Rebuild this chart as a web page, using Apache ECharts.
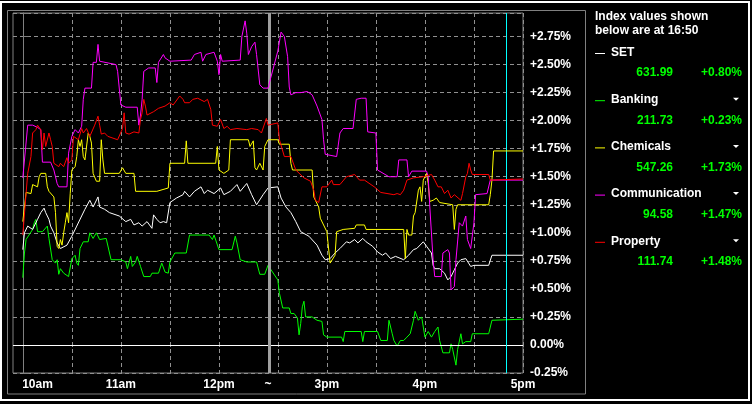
<!DOCTYPE html>
<html><head><meta charset="utf-8">
<script src="https://cdn.jsdelivr.net/npm/echarts@6.0.0/dist/echarts.min.js"></script>
<style>html,body{margin:0;padding:0;background:#000;}#c{width:752px;height:404px;}</style>
</head><body><div id="c"></div>
<script>
// ---- data (time of day, % change) ----
const SET = [['10:00',0.85],['10:01',1.00],['10:03',1.06],['10:06',1.03],['10:09',1.12],['10:11',1.18],['10:13',1.22],['10:14',1.18],['10:16',1.12],['10:17',1.06],['10:19',1.00],['10:21',0.91],['10:23',0.86],['10:27',0.89],['10:30',0.97],['10:33',1.06],['10:36',1.15],['10:38',1.21],['10:41',1.29],['10:43',1.23],['10:46',1.32],['10:47',1.23],['10:50',1.21],['10:53',1.18],['10:59',1.15],['11:03',1.10],['11:06',1.12],['11:08',1.07],['11:11',1.09],['11:13',1.06],['11:16',1.10],['11:19',1.04],['11:20',1.16],['11:22',1.12],['11:24',1.09],['11:26',1.10],['11:28',1.09],['11:30',1.27],['11:34',1.31],['11:38',1.34],['11:39',1.37],['11:42',1.32],['11:45',1.37],['11:49',1.41],['11:51',1.35],['11:53',1.38],['11:57',1.35],['12:01',1.40],['12:03',1.34],['12:07',1.37],['12:11',1.43],['12:13',1.37],['12:17',1.44],['12:20',1.34],['12:23',1.25],['12:27',1.34],['12:30',1.40],['14:30',1.41],['14:32',1.31],['14:35',1.23],['14:38',1.18],['14:41',1.10],['14:44',1.01],['14:49',0.97],['14:54',0.89],['14:57',0.80],['14:59',0.76],['15:02',0.77],['15:05',0.82],['15:08',0.86],['15:12',0.92],['15:14',0.91],['15:17',0.94],['15:19',0.91],['15:22',0.95],['15:24',0.92],['15:28',0.88],['15:31',0.83],['15:34',0.80],['15:36',0.82],['15:39',0.77],['15:42',0.79],['15:47',0.76],['15:50',0.80],['15:53',0.85],['15:55',0.86],['15:59',0.92],['16:01',0.88],['16:04',0.82],['16:05',0.71],['16:06',0.68],['16:09',0.68],['16:12',0.64],['16:14',0.58],['16:16',0.61],['16:18',0.67],['16:20',0.73],['16:22',0.76],['16:25',0.77],['16:28',0.70],['16:30',0.71],['16:39',0.71],['16:41',0.80],['17:00',0.80]];

const BANKING = [['10:00',0.60],['10:01',0.82],['10:02',0.94],['10:06',1.03],['10:07',1.09],['10:08',1.12],['10:09',1.01],['10:12',1.01],['10:15',1.06],['10:16',0.95],['10:18',0.76],['10:20',0.73],['10:21',0.76],['10:22',0.63],['10:23',0.68],['10:25',0.64],['10:28',0.61],['10:29',0.61],['10:30',0.77],['10:32',0.80],['10:33',0.73],['10:34',0.71],['10:35',0.86],['10:37',0.92],['10:40',0.92],['10:41',1.00],['10:43',0.95],['10:45',1.00],['10:47',0.94],['10:48',0.95],['10:51',0.95],['10:54',0.76],['11:00',0.76],['11:03',0.74],['11:04',0.68],['11:06',0.79],['11:07',0.70],['11:09',0.74],['11:10',0.79],['11:12',0.70],['11:14',0.61],['11:18',0.61],['11:19',0.64],['11:23',0.64],['11:25',0.73],['11:27',0.65],['11:29',0.64],['11:30',0.74],['11:33',0.82],['11:40',0.82],['11:42',0.98],['11:54',0.98],['11:56',0.94],['11:57',0.98],['12:00',0.85],['12:08',0.85],['12:10',0.97],['12:11',0.91],['12:13',0.76],['12:17',0.74],['12:23',0.74],['12:25',0.63],['12:28',0.63],['12:30',0.71],['14:30',0.58],['14:31',0.46],['14:33',0.33],['14:37',0.33],['14:38',0.28],['14:40',0.28],['14:42',0.24],['14:43',0.09],['14:44',0.19],['14:45',0.34],['14:46',0.39],['14:47',0.25],['14:51',0.25],['14:54',0.22],['14:57',0.21],['14:58',0.09],['15:00',0.07],['15:09',0.07],['15:10',0.03],['15:11',0.12],['15:21',0.12],['15:22',0.03],['15:23',0.12],['15:31',0.12],['15:33',0.04],['15:37',0.04],['15:38',0.22],['15:40',0.10],['15:41',0.04],['15:43',-0.01],['15:45',0.04],['15:47',0.04],['15:49',0.07],['15:51',0.10],['15:53',0.22],['15:54',0.30],['15:56',0.22],['15:58',0.25],['15:59',0.16],['16:00',0.07],['16:02',0.12],['16:04',0.07],['16:06',0.12],['16:08',0.16],['16:09',0.04],['16:11',-0.07],['16:15',-0.07],['16:16',0.01],['16:17',-0.04],['16:19',-0.18],['16:20',-0.04],['16:22',0.10],['16:23',0.01],['16:25',0.03],['16:28',0.03],['16:29',0.10],['16:39',0.10],['16:41',0.22],['17:00',0.23]];

const CHEMICALS = [['10:00',1.10],['10:02',1.36],['10:03',1.35],['10:05',1.35],['10:06',1.43],['10:09',1.41],['10:10',1.50],['10:11',1.53],['10:14',1.53],['10:15',1.41],['10:16',1.37],['10:19',1.32],['10:20',1.18],['10:21',0.88],['10:22',0.86],['10:23',0.94],['10:24',0.89],['10:25',1.00],['10:26',1.09],['10:27',1.18],['10:28',1.09],['10:29',1.35],['10:30',1.56],['10:32',1.59],['10:33',1.68],['10:34',1.83],['10:35',1.77],['10:36',1.83],['10:37',1.68],['10:38',1.65],['10:40',1.89],['10:41',1.86],['10:42',1.80],['10:43',1.53],['10:45',1.46],['10:47',1.46],['10:48',1.83],['10:49',1.65],['10:50',1.53],['10:59',1.53],['11:01',1.58],['11:03',1.53],['11:08',1.53],['11:09',1.37],['11:22',1.37],['11:29',1.40],['11:30',1.62],['11:39',1.62],['11:40',1.82],['11:41',1.62],['11:58',1.62],['11:59',1.77],['12:00',1.56],['12:03',1.53],['12:04',1.52],['12:06',1.56],['12:07',1.83],['12:18',1.83],['12:19',1.77],['12:21',1.82],['12:22',1.58],['12:23',1.56],['12:25',1.62],['12:27',1.56],['12:28',1.77],['12:30',1.83],['14:30',1.83],['14:31',1.79],['14:37',1.79],['14:38',1.62],['14:39',1.56],['14:51',1.56],['14:52',1.32],['14:55',1.23],['14:56',1.13],['15:00',1.01],['15:02',0.73],['15:03',0.74],['15:05',0.80],['15:06',1.01],['15:10',1.03],['15:17',1.04],['15:18',1.07],['15:23',1.07],['15:24',1.03],['15:47',1.03],['15:48',0.77],['15:49',1.03],['15:50',0.98],['15:52',0.98],['15:53',1.15],['15:54',1.18],['15:56',1.38],['15:57',1.41],['15:58',1.28],['15:59',1.47],['16:01',1.53],['16:02',1.44],['16:03',1.28],['16:05',1.29],['16:07',1.31],['16:09',1.27],['16:17',1.25],['16:18',1.03],['16:19',1.21],['16:20',1.25],['16:39',1.25],['16:40',1.34],['16:41',1.47],['16:42',1.73],['17:00',1.73]];

const COMMUNICATION = [['10:00',1.49],['10:03',1.96],['10:06',1.96],['10:09',1.94],['10:10',1.95],['10:11',1.92],['10:12',1.63],['10:17',1.63],['10:19',1.56],['10:21',1.44],['10:22',1.41],['10:27',1.41],['10:28',1.71],['10:30',1.86],['10:32',1.92],['10:34',1.89],['10:36',1.95],['10:37',2.19],['10:38',2.29],['10:42',2.29],['10:43',2.52],['10:45',2.52],['10:46',2.68],['10:47',2.53],['10:57',2.50],['10:58',2.44],['11:00',2.14],['11:03',2.12],['11:10',2.12],['11:11',1.96],['11:12',2.05],['11:13',2.19],['11:14',2.44],['11:17',2.47],['11:21',2.47],['11:22',2.34],['11:23',2.52],['11:26',2.59],['11:27',2.56],['11:30',2.53],['11:43',2.54],['11:45',2.59],['11:49',2.61],['11:50',2.53],['11:52',2.59],['11:57',2.61],['11:59',2.53],['12:00',2.41],['12:01',2.59],['12:02',2.53],['12:13',2.54],['12:14',2.75],['12:16',2.89],['12:17',2.78],['12:18',2.59],['12:20',2.66],['12:22',2.70],['12:23',2.59],['12:25',2.32],['12:27',2.29],['12:30',2.29],['14:30',2.62],['14:32',2.79],['14:34',2.75],['14:36',2.57],['14:37',2.30],['14:38',2.23],['14:41',2.25],['14:44',2.25],['14:48',2.26],['14:51',2.23],['14:54',2.13],['14:57',2.01],['14:58',1.83],['14:59',1.70],['15:06',1.68],['15:08',1.89],['15:10',1.93],['15:16',1.93],['15:18',2.19],['15:21',2.20],['15:24',2.20],['15:25',1.90],['15:30',1.89],['15:31',1.56],['15:38',1.50],['15:43',1.50],['15:44',1.65],['15:49',1.65],['15:50',1.50],['15:52',1.55],['16:01',1.55],['16:02',1.50],['16:03',1.23],['16:05',0.76],['16:06',0.61],['16:10',0.61],['16:11',0.82],['16:14',0.85],['16:15',0.82],['16:16',0.49],['16:18',0.52],['16:19',0.76],['16:21',1.09],['16:23',1.06],['16:25',1.15],['16:26',0.94],['16:28',0.86],['16:30',1.09],['16:31',1.34],['16:38',1.35],['16:40',1.47],['17:00',1.47]];

const PROPERTY = [['10:00',0.98],['10:02',1.35],['10:03',1.53],['10:05',1.68],['10:06',1.89],['10:08',1.92],['10:09',1.96],['10:11',1.92],['10:12',1.74],['10:13',1.89],['10:14',1.77],['10:16',1.89],['10:17',1.83],['10:18',1.77],['10:19',1.62],['10:22',1.59],['10:23',1.62],['10:25',1.59],['10:27',1.67],['10:28',1.62],['10:30',1.65],['10:31',1.86],['10:34',1.83],['10:36',1.93],['10:37',1.89],['10:39',1.93],['10:41',1.86],['10:44',1.96],['10:46',2.04],['10:47',1.96],['10:48',1.88],['10:50',1.89],['10:52',1.86],['10:58',1.83],['10:59',1.82],['11:01',1.93],['11:02',2.07],['11:03',1.89],['11:05',1.88],['11:08',1.90],['11:11',1.89],['11:12',2.01],['11:13',2.07],['11:14',2.19],['11:15',2.13],['11:16',2.05],['11:20',2.08],['11:23',2.11],['11:27',2.13],['11:30',2.16],['11:32',2.14],['11:36',2.22],['11:38',2.19],['11:39',2.16],['11:42',2.16],['11:44',2.19],['11:47',2.20],['11:51',2.17],['11:53',2.19],['11:55',2.10],['11:56',1.96],['11:59',1.95],['12:01',2.01],['12:03',1.93],['12:05',1.95],['12:07',1.92],['12:11',1.93],['12:17',1.92],['12:20',1.93],['12:24',1.92],['12:26',1.89],['12:29',2.02],['12:30',1.96],['14:30',1.98],['14:31',1.83],['14:34',1.68],['14:38',1.68],['14:41',1.56],['14:46',1.49],['14:50',1.46],['14:52',1.38],['14:53',1.29],['14:54',1.29],['14:55',1.27],['14:57',1.41],['15:00',1.41],['15:03',1.47],['15:04',1.43],['15:08',1.43],['15:12',1.50],['15:17',1.52],['15:20',1.47],['15:23',1.47],['15:27',1.43],['15:29',1.41],['15:33',1.36],['15:41',1.34],['15:43',1.35],['15:45',1.34],['15:47',1.38],['15:49',1.47],['15:53',1.49],['15:59',1.50],['16:04',1.52],['16:06',1.47],['16:08',1.41],['16:10',1.41],['16:12',1.35],['16:14',1.38],['16:16',1.31],['16:18',1.34],['16:22',1.29],['16:23',1.35],['16:25',1.50],['16:26',1.53],['16:27',1.62],['16:28',1.56],['16:29',1.52],['16:39',1.52],['16:40',1.47],['17:00',1.48]];

const NAMES = ['SET','Banking','Chemicals','Communication','Property'];
const LEVELS = ['631.99','211.73','547.26','94.58','111.74'];
const CHANGES = ['+0.80%','+0.23%','+1.73%','+1.47%','+1.48%'];
const AS_AT = '16:50';
const GRID_TIMES = ['10:00','10:30','11:00','11:30','12:00','14:30','15:00','15:30','16:00','16:30','17:00'];
const X_LABELS = [['10am','10:09'],['11am','11:00'],['12pm','12:00'],['~','12:31'],['3pm','15:00'],['4pm','16:00'],['5pm','17:00']];

// ---- session time scale: morning 10:00-12:30, afternoon 14:30-17:00 with a small gap ----
const GAP = 6;
function tx(t){
  const p = t.split(':').map(Number); const m = p[0]*60+p[1];
  if (m >= 870) return 150 + GAP + (m - 870);
  if (m > 750) return 150 + (m - 750) * GAP / 120;
  return m - 600;
}
const COLORS = {SET:'#ffffff', Banking:'#00ff00', Chemicals:'#ffff00', Communication:'#ff00ff', Property:'#ff0000'};
const SERIES_DATA = {SET, Banking:BANKING, Chemicals:CHEMICALS, Communication:COMMUNICATION, Property:PROPERTY};

const FONT = '"Liberation Sans", Arial, sans-serif';
const labelMap = {};
X_LABELS.forEach(([l,t]) => { labelMap[tx(t).toFixed(3)] = l; });

const chart = echarts.init(document.getElementById('c'), null, {renderer:'canvas'});

const drawOrder = ['Banking','SET','Chemicals','Communication','Property'];
const series = drawOrder.map((n, i) => ({
  type:'line', name:n, data: SERIES_DATA[n].map(d => [tx(d[0]), d[1]]),
  showSymbol:false, symbol:'none', animation:false, silent:true,
  lineStyle:{color:COLORS[n], width:1}, z: 3 + i
}));
series.push({
  type:'line', data:[], silent:true, animation:false, z:2,
  markLine:{ silent:true, symbol:'none', animation:false, label:{show:false},
    data:[
      {yAxis:0, lineStyle:{color:'#ffffff', width:1, type:'solid'}},
      {xAxis:150.6, lineStyle:{color:'#a0a0a0', width:3, type:'solid'}},
      {xAxis:tx(AS_AT), lineStyle:{color:'#00ffff', width:1, type:'solid'}}
    ]}
});

// frames and legend panel
const g = [];
g.push({type:'rect', shape:{x:1, y:2, width:748, height:398}, style:{fill:'none', stroke:'#ffffff', lineWidth:2}, silent:true});
g.push({type:'rect', shape:{x:7.5, y:10.5, width:578, height:383.5}, style:{fill:'none', stroke:'#808080', lineWidth:1}, silent:true});
g.push({type:'text', x:595, y:17, style:{text:'Index values shown', fill:'#fff', font:'bold 12px '+FONT, verticalAlign:'middle'}});
g.push({type:'text', x:595, y:31, style:{text:'below are at '+AS_AT, fill:'#fff', font:'bold 12px '+FONT, verticalAlign:'middle'}});
NAMES.forEach((n, i) => {
  const y = 52.5 + i*47.2;
  g.push({type:'line', shape:{x1:595, y1:y+1, x2:605, y2:y+1}, style:{stroke:COLORS[n], lineWidth:1}});
  g.push({type:'text', x:611, y:y, style:{text:n, fill:'#fff', font:'bold 12px '+FONT, verticalAlign:'middle'}});
  if (i > 0) g.push({type:'polygon', shape:{points:[[733,y-2],[739,y-2],[736,y+1]]}, style:{fill:'#fff'}});
  g.push({type:'text', x:673, y:y+20.5, style:{text:LEVELS[i], fill:'#00ff00', font:'bold 12px '+FONT, align:'right', verticalAlign:'middle'}});
  g.push({type:'text', x:742, y:y+20.5, style:{text:CHANGES[i], fill:'#00ff00', font:'bold 12px '+FONT, align:'right', verticalAlign:'middle'}});
});

chart.setOption({
  backgroundColor:'#000000',
  animation:false,
  grid:{left:13, right:229, top:13, bottom:31, show:true, borderColor:'#808080', borderWidth:1, backgroundColor:'#000'},
  xAxis:{
    type:'value', min:-GAP, max:306,
    axisLine:{show:false},
    axisTick:{show:true, length:5, customValues: GRID_TIMES.map(tx), lineStyle:{color:'#909090', type:[2,2]}},
    axisLabel:{show:true, customValues: X_LABELS.map(d => tx(d[1])), formatter: v => labelMap[v.toFixed(3)] || '',
      color:'#ffffff', fontFamily:FONT, fontWeight:'bold', fontSize:12, margin:6},
    splitLine:{show:true, lineStyle:{color:'#909090', type:[4,3], width:1}}
  },
  yAxis:{
    type:'value', position:'right', min:-0.25, max:2.96, interval:0.25,
    axisLine:{show:true, lineStyle:{color:'#808080'}},
    axisTick:{show:true, length:6, lineStyle:{color:'#808080'}},
    axisLabel:{color:'#ffffff', fontFamily:FONT, fontWeight:'bold', fontSize:12, margin:7, align:'left',
      formatter: v => { const r = Math.round(v*4)/4; if (Math.abs(v-r) > 1e-6) return ''; return (r>0?'+':'') + r.toFixed(2) + '%'; }},
    splitLine:{show:true, lineStyle:{color:'#909090', type:[4,3], width:1}}
  },
  series: series,
  graphic: g
});
</script></body></html>
